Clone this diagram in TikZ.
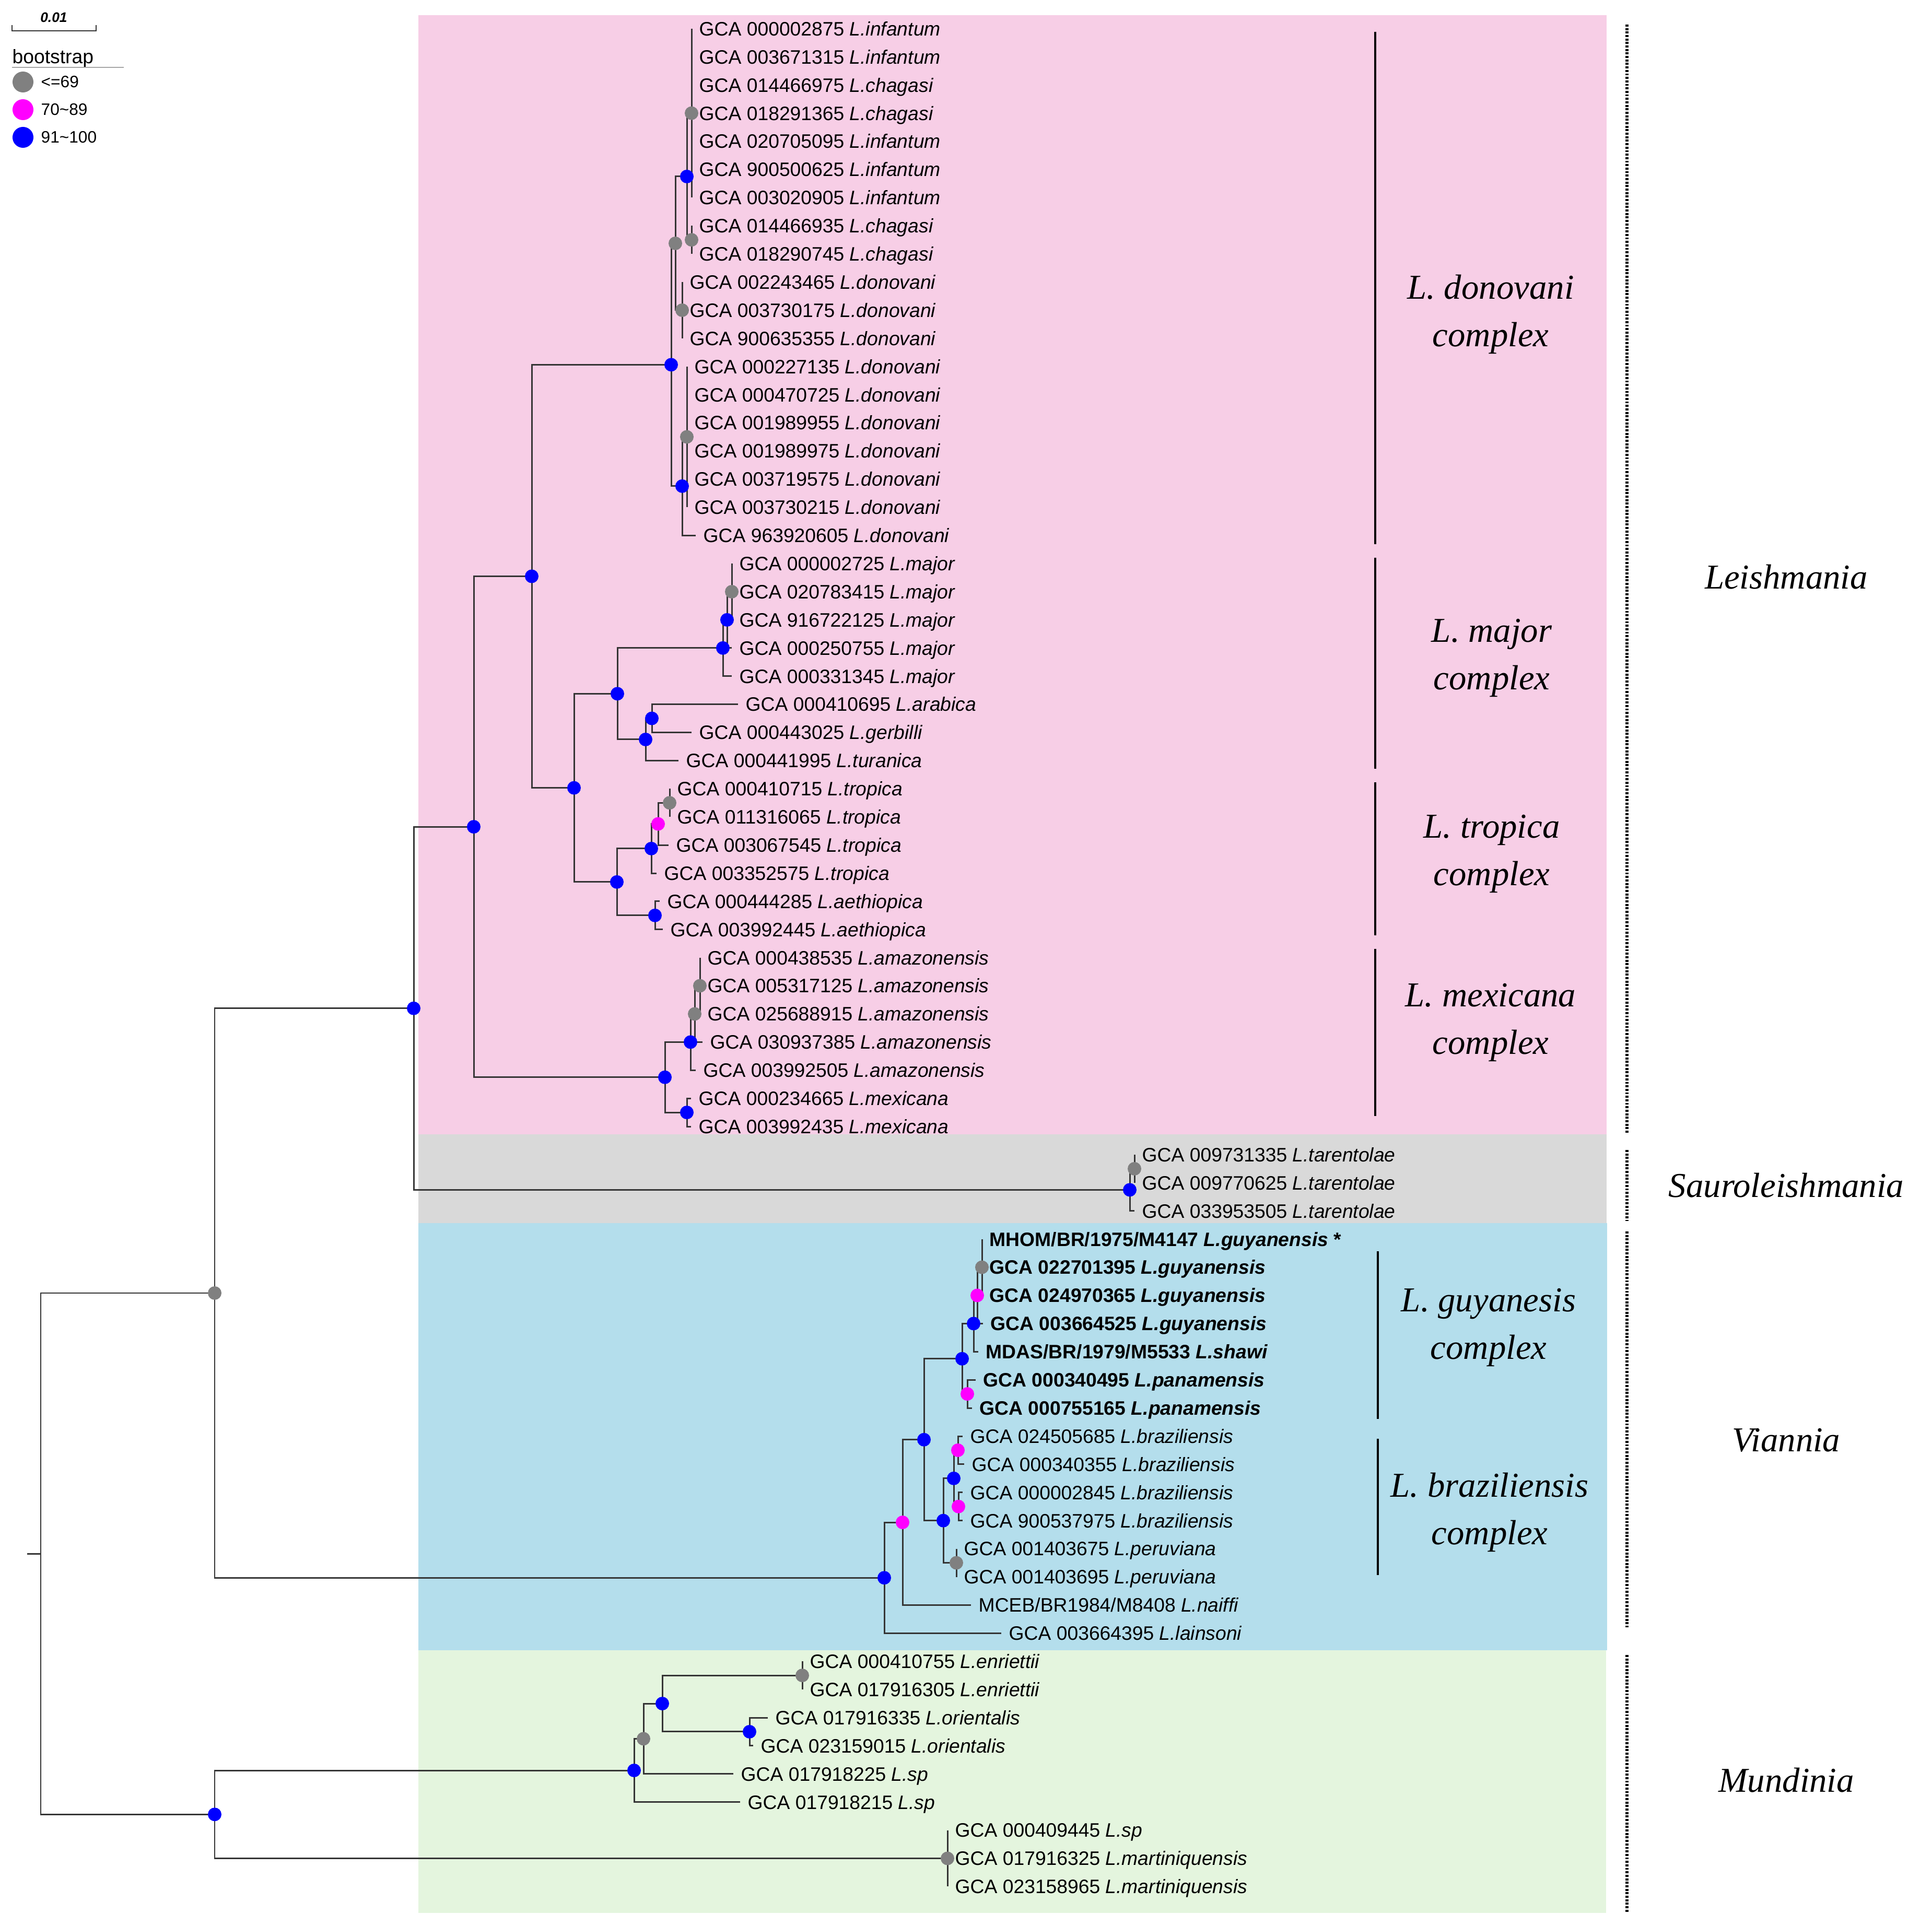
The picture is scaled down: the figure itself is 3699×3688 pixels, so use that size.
\documentclass[tikz,border=0pt]{standalone}
\usepackage{fontspec}
\setmainfont{Liberation Sans}
\newfontfamily\serifit{Liberation Serif}
\definecolor{pinkbg}{HTML}{F7CEE6}
\definecolor{graybg}{HTML}{D9D9D9}
\definecolor{bluebg}{HTML}{B4DEEC}
\definecolor{greenbg}{HTML}{E4F5DE}
\definecolor{bsgray}{HTML}{808080}
\definecolor{bsmag}{HTML}{FF00FF}
\definecolor{bsblue}{HTML}{0000FF}
\definecolor{branchcol}{HTML}{353535}
\newcommand\tipnode[4]{\coordinate (#1) at (#2,{55+53.9*#3}); \node[tiplab] (#1l) at (#1) {#4};}
\newcommand\treekids[2]{\foreach \ch in {#2}{\draw[branch] (#1) |- (\ch);}}
\begin{document}
\begin{tikzpicture}[x=0.01cm, y=-0.01cm,
 branch/.style={draw=branchcol, line width=0.85pt},
 bsdot/.style={circle, inner sep=0pt, minimum size=0.26cm},
 gdot/.style={bsdot, fill=bsgray},
 mdot/.style={bsdot, fill=bsmag},
 bdot/.style={bsdot, fill=bsblue},
 legdot/.style={circle, inner sep=0pt, minimum size=0.40cm},
 tiplab/.style={anchor=base west, inner sep=0pt, xshift=0.14cm, yshift=-0.133cm, font=\fontsize{10.6}{12}\selectfont},
 cladelab/.style={align=center, inner sep=0pt, font=\serifit\itshape\fontsize{19}{26}\selectfont},
 grouplab/.style={inner sep=0pt, font=\serifit\itshape\fontsize{19}{23}\selectfont},
 complexbar/.style={line width=1.1pt, black},
 dotbar/.style={line width=1.8pt, dash pattern=on 1.1pt off 0.8pt, black},
 leglab/.style={anchor=base west, inner sep=0pt, font=\fontsize{9}{11}\selectfont}]
\useasboundingbox (0,0) rectangle (3699,3688);
% backgrounds
\fill[pinkbg] (801,29) rectangle (3076,2172);
\fill[graybg] (801,2172) rectangle (3076,2342);
\fill[bluebg] (801,2342) rectangle (3077,3160);
\fill[greenbg] (801,3160) rectangle (3075,3663);

% ---- tips ----
\tipnode{t0}{1324}{0}{GCA 000002875 \textit{L.infantum}}
\tipnode{t1}{1324}{1}{GCA 003671315 \textit{L.infantum}}
\tipnode{t2}{1324}{2}{GCA 014466975 \textit{L.chagasi}}
\tipnode{t3}{1324}{3}{GCA 018291365 \textit{L.chagasi}}
\tipnode{t4}{1324}{4}{GCA 020705095 \textit{L.infantum}}
\tipnode{t5}{1324}{5}{GCA 900500625 \textit{L.infantum}}
\tipnode{t6}{1324}{6}{GCA 003020905 \textit{L.infantum}}
\tipnode{t7}{1324}{7}{GCA 014466935 \textit{L.chagasi}}
\tipnode{t8}{1324}{8}{GCA 018290745 \textit{L.chagasi}}
\tipnode{t9}{1306}{9}{GCA 002243465 \textit{L.donovani}}
\tipnode{t10}{1306}{10}{GCA 003730175 \textit{L.donovani}}
\tipnode{t11}{1306}{11}{GCA 900635355 \textit{L.donovani}}
\tipnode{t12}{1315}{12}{GCA 000227135 \textit{L.donovani}}
\tipnode{t13}{1315}{13}{GCA 000470725 \textit{L.donovani}}
\tipnode{t14}{1315}{14}{GCA 001989955 \textit{L.donovani}}
\tipnode{t15}{1315}{15}{GCA 001989975 \textit{L.donovani}}
\tipnode{t16}{1315}{16}{GCA 003719575 \textit{L.donovani}}
\tipnode{t17}{1315}{17}{GCA 003730215 \textit{L.donovani}}
\tipnode{t18}{1332}{18}{GCA 963920605 \textit{L.donovani}}
\tipnode{t19}{1401}{19}{GCA 000002725 \textit{L.major}}
\tipnode{t20}{1401}{20}{GCA 020783415 \textit{L.major}}
\tipnode{t21}{1401}{21}{GCA 916722125 \textit{L.major}}
\tipnode{t22}{1401}{22}{GCA 000250755 \textit{L.major}}
\tipnode{t23}{1401}{23}{GCA 000331345 \textit{L.major}}
\tipnode{t24}{1413}{24}{GCA 000410695 \textit{L.arabica}}
\tipnode{t25}{1324}{25}{GCA 000443025 \textit{L.gerbilli}}
\tipnode{t26}{1299}{26}{GCA 000441995 \textit{L.turanica}}
\tipnode{t27}{1282}{27}{GCA 000410715 \textit{L.tropica}}
\tipnode{t28}{1282}{28}{GCA 011316065 \textit{L.tropica}}
\tipnode{t29}{1280}{29}{GCA 003067545 \textit{L.tropica}}
\tipnode{t30}{1257}{30}{GCA 003352575 \textit{L.tropica}}
\tipnode{t31}{1263}{31}{GCA 000444285 \textit{L.aethiopica}}
\tipnode{t32}{1269}{32}{GCA 003992445 \textit{L.aethiopica}}
\tipnode{t33}{1340}{33}{GCA 000438535 \textit{L.amazonensis}}
\tipnode{t34}{1340}{34}{GCA 005317125 \textit{L.amazonensis}}
\tipnode{t35}{1340}{35}{GCA 025688915 \textit{L.amazonensis}}
\tipnode{t36}{1345}{36}{GCA 030937385 \textit{L.amazonensis}}
\tipnode{t37}{1332}{37}{GCA 003992505 \textit{L.amazonensis}}
\tipnode{t38}{1323}{38}{GCA 000234665 \textit{L.mexicana}}
\tipnode{t39}{1323}{39}{GCA 003992435 \textit{L.mexicana}}
\tipnode{t40}{2172}{40}{GCA 009731335 \textit{L.tarentolae}}
\tipnode{t41}{2172}{41}{GCA 009770625 \textit{L.tarentolae}}
\tipnode{t42}{2172}{42}{GCA 033953505 \textit{L.tarentolae}}
\tipnode{t43}{1880}{43}{\textbf{MHOM/BR/1975/M4147 \textit{L.guyanensis} *}}
\tipnode{t44}{1880}{44}{\textbf{GCA 022701395 \textit{L.guyanensis}}}
\tipnode{t45}{1880}{45}{\textbf{GCA 024970365 \textit{L.guyanensis}}}
\tipnode{t46}{1882}{46}{\textbf{GCA 003664525 \textit{L.guyanensis}}}
\tipnode{t47}{1873}{47}{\textbf{MDAS/BR/1979/M5533 \textit{L.shawi}}}
\tipnode{t48}{1868}{48}{\textbf{GCA 000340495 \textit{L.panamensis}}}
\tipnode{t49}{1861}{49}{\textbf{GCA 000755165 \textit{L.panamensis}}}
\tipnode{t50}{1843}{50}{GCA 024505685 \textit{L.braziliensis}}
\tipnode{t51}{1846}{51}{GCA 000340355 \textit{L.braziliensis}}
\tipnode{t52}{1843}{52}{GCA 000002845 \textit{L.braziliensis}}
\tipnode{t53}{1843}{53}{GCA 900537975 \textit{L.braziliensis}}
\tipnode{t54}{1831}{54}{GCA 001403675 \textit{L.peruviana}}
\tipnode{t55}{1831}{55}{GCA 001403695 \textit{L.peruviana}}
\tipnode{t56}{1859}{56}{MCEB/BR1984/M8408 \textit{L.naiffi}}
\tipnode{t57}{1917}{57}{GCA 003664395 \textit{L.lainsoni}}
\tipnode{t58}{1536}{58}{GCA 000410755 \textit{L.enriettii}}
\tipnode{t59}{1536}{59}{GCA 017916305 \textit{L.enriettii}}
\tipnode{t60}{1470}{60}{GCA 017916335 \textit{L.orientalis}}
\tipnode{t61}{1442}{61}{GCA 023159015 \textit{L.orientalis}}
\tipnode{t62}{1404}{62}{GCA 017918225 \textit{L.sp}}
\tipnode{t63}{1417}{63}{GCA 017918215 \textit{L.sp}}
\tipnode{t64}{1814}{64}{GCA 000409445 \textit{L.sp}}
\tipnode{t65}{1814}{65}{GCA 017916325 \textit{L.martiniquensis}}
\tipnode{t66}{1814}{66}{GCA 023158965 \textit{L.martiniquensis}}

% ---- internal nodes ----
\coordinate (G1) at (1324,216.7);
\coordinate (G2) at (1324,459.25);
\coordinate (B1) at (1315,337.98);
\coordinate (G3) at (1306,594);
\coordinate (D1) at (1293,465.99);
\coordinate (G4) at (1315,836.55);
\coordinate (D2) at (1306,930.88);
\coordinate (D) at (1285,698.4);
\coordinate (G5) at (1401,1133);
\coordinate (M3) at (1392,1186.9);
\coordinate (M1) at (1384,1240.8);
\coordinate (Ar2) at (1248,1375.55);
\coordinate (Ar1) at (1236,1415.98);
\coordinate (MG) at (1182,1328.39);
\coordinate (Gt) at (1282,1537.25);
\coordinate (Mt) at (1260,1577.68);
\coordinate (Tt) at (1247,1624.84);
\coordinate (Ae) at (1254,1752.85);
\coordinate (TG) at (1181,1688.85);
\coordinate (MT) at (1099,1508.62);
\coordinate (DMT) at (1018,1103.5);
\coordinate (Gm1) at (1340,1887.6);
\coordinate (Gm2) at (1330,1941.5);
\coordinate (Bam) at (1322,1995.4);
\coordinate (Mx) at (1315,2130.15);
\coordinate (MXG) at (1273,2062.78);
\coordinate (L) at (907,1583.14);
\coordinate (Gs) at (2172,2237.95);
\coordinate (Bs) at (2163,2278.38);
\coordinate (B) at (792,1930.76);
\coordinate (Gg) at (1880,2426.6);
\coordinate (Mg) at (1871,2480.5);
\coordinate (Bg1) at (1864,2534.4);
\coordinate (Pm) at (1852,2669.15);
\coordinate (GU) at (1842,2601.78);
\coordinate (Mb1) at (1834,2776.95);
\coordinate (Mb2) at (1835,2884.75);
\coordinate (Bb) at (1826,2830.85);
\coordinate (Gp) at (1831,2992.55);
\coordinate (BR) at (1806,2911.7);
\coordinate (V3) at (1769,2756.74);
\coordinate (Mv) at (1728,2915.07);
\coordinate (V) at (1693,3021.19);
\coordinate (A) at (411,2475.98);
\coordinate (Ge) at (1536,3208.15);
\coordinate (Or) at (1435,3315.95);
\coordinate (Bm1) at (1268,3262.05);
\coordinate (Gm) at (1232,3329.43);
\coordinate (Bm) at (1214,3390.06);
\coordinate (Gmt) at (1814,3558.5);
\coordinate (MU) at (411,3474.28);
\coordinate (root) at (78,2975.13);
\coordinate (stub) at (52,2975.13);

% ---- branches ----
\treekids{G1}{t0,t1,t2,t3,t4,t5,t6}
\treekids{G2}{t7,t8}
\treekids{B1}{G1,G2}
\treekids{G3}{t9,t10,t11}
\treekids{D1}{B1,G3}
\treekids{G4}{t12,t13,t14,t15,t16,t17}
\treekids{D2}{G4,t18}
\treekids{D}{D1,D2}
\treekids{G5}{t19,t20,t21}
\treekids{M3}{G5,t22}
\treekids{M1}{M3,t23}
\treekids{Ar2}{t24,t25}
\treekids{Ar1}{Ar2,t26}
\treekids{MG}{M1,Ar1}
\treekids{Gt}{t27,t28}
\treekids{Mt}{Gt,t29}
\treekids{Tt}{Mt,t30}
\treekids{Ae}{t31,t32}
\treekids{TG}{Tt,Ae}
\treekids{MT}{MG,TG}
\treekids{DMT}{D,MT}
\treekids{Gm1}{t33,t34,t35}
\treekids{Gm2}{Gm1,t36}
\treekids{Bam}{Gm2,t37}
\treekids{Mx}{t38,t39}
\treekids{MXG}{Bam,Mx}
\treekids{L}{DMT,MXG}
\treekids{Gs}{t40,t41}
\treekids{Bs}{Gs,t42}
\treekids{B}{L,Bs}
\treekids{Gg}{t43,t44,t45}
\treekids{Mg}{Gg,t46}
\treekids{Bg1}{Mg,t47}
\treekids{Pm}{t48,t49}
\treekids{GU}{Bg1,Pm}
\treekids{Mb1}{t50,t51}
\treekids{Mb2}{t52,t53}
\treekids{Bb}{Mb1,Mb2}
\treekids{Gp}{t54,t55}
\treekids{BR}{Bb,Gp}
\treekids{V3}{GU,BR}
\treekids{Mv}{V3,t56}
\treekids{V}{Mv,t57}
\treekids{A}{B,V}
\treekids{Ge}{t58,t59}
\treekids{Or}{t60,t61}
\treekids{Bm1}{Ge,Or}
\treekids{Gm}{Bm1,t62}
\treekids{Bm}{Gm,t63}
\treekids{Gmt}{t64,t65,t66}
\treekids{MU}{Bm,Gmt}
\treekids{root}{A,MU}
\draw[branch] (stub) -- (root);

% ---- bootstrap dots ----
\foreach \n in {G1,G2,D1,G3,G4,G5,Gt,Gm1,Gm2,Gs,Gg,Gp,Ge,Gm,Gmt,A}
  \node[gdot] at (\n) {};
\foreach \n in {Mt,Mg,Pm,Mb1,Mb2,Mv}
  \node[mdot] at (\n) {};
\foreach \n in {B1,D2,D,M3,M1,Ar2,Ar1,MG,Tt,Ae,TG,MT,DMT,Bam,Mx,MXG,L,Bs,B,Bg1,GU,Bb,BR,V3,V,Or,Bm1,Bm,MU}
  \node[bdot] at (\n) {};

% ---- complex bars and labels ----
\coordinate (cb1a) at (2633,61);   \coordinate (cb1b) at (2633,1042);
\coordinate (cb2a) at (2633,1068); \coordinate (cb2b) at (2633,1472);
\coordinate (cb3a) at (2633,1498); \coordinate (cb3b) at (2633,1791);
\coordinate (cb4a) at (2633,1817); \coordinate (cb4b) at (2633,2137);
\coordinate (cb5a) at (2638,2396); \coordinate (cb5b) at (2638,2717);
\coordinate (cb6a) at (2638,2755); \coordinate (cb6b) at (2638,3016);
\foreach \i in {1,...,6} \draw[complexbar] (cb\i a) -- (cb\i b);
\node[cladelab] (cx1) at (2854,602) {L. donovani\\complex};
\node[cladelab] (cx2) at (2856,1260) {L. major\\complex};
\node[cladelab] (cx3) at (2856,1635) {L. tropica\\complex};
\node[cladelab] (cx4) at (2854,1958) {L. mexicana\\complex};
\node[cladelab] (cx5) at (2850,2542) {L. guyanesis\\complex};
\node[cladelab] (cx6) at (2852,2896) {L. braziliensis\\complex};

% ---- genus/subgenus dotted bars and labels ----
\coordinate (gb1a) at (3115,47);   \coordinate (gb1b) at (3115,2169);
\coordinate (gb2a) at (3115,2202); \coordinate (gb2b) at (3115,2338);
\coordinate (gb3a) at (3115,2358); \coordinate (gb3b) at (3115,3116);
\coordinate (gb4a) at (3115,3169); \coordinate (gb4b) at (3115,3661);
\foreach \i in {1,...,4} \draw[dotbar] (gb\i a) -- (gb\i b);
\node[grouplab] (g1) at (3420,1105) {Leishmania};
\node[grouplab] (g2) at (3420,2270) {Sauroleishmania};
\node[grouplab] (g3) at (3420,2758) {Viannia};
\node[grouplab] (g4) at (3420,3409) {Mundinia};

% ---- scale bar and legend ----
\coordinate (sb1) at (23,59); \coordinate (sb2) at (184,59);
\draw[draw=branchcol, line width=0.8pt] ([yshift=0.11cm]sb1) -- (sb1) -- (sb2) -- ([yshift=0.11cm]sb2);
\node[inner sep=0pt, font=\bfseries\itshape\fontsize{7.5}{9}\selectfont] (sbl) at (103,33) {0.01};
\node[anchor=base west, inner sep=0pt, font=\fontsize{10.6}{12}\selectfont] (bs) at (23,122) {bootstrap};
\coordinate (ul1) at (23,129); \coordinate (ul2) at (237,129);
\draw[gray!70, line width=0.6pt] (ul1) -- (ul2);
\node[legdot, fill=bsgray] (lg1) at (44,157) {};
\node[legdot, fill=bsmag] (lg2) at (44,210) {};
\node[legdot, fill=bsblue] (lg3) at (44,263) {};
\node[leglab] at (78,168) {<=69};
\node[leglab] at (78,221) {70\textasciitilde 89};
\node[leglab] at (78,274) {91\textasciitilde 100};
\end{tikzpicture}
\end{document}
